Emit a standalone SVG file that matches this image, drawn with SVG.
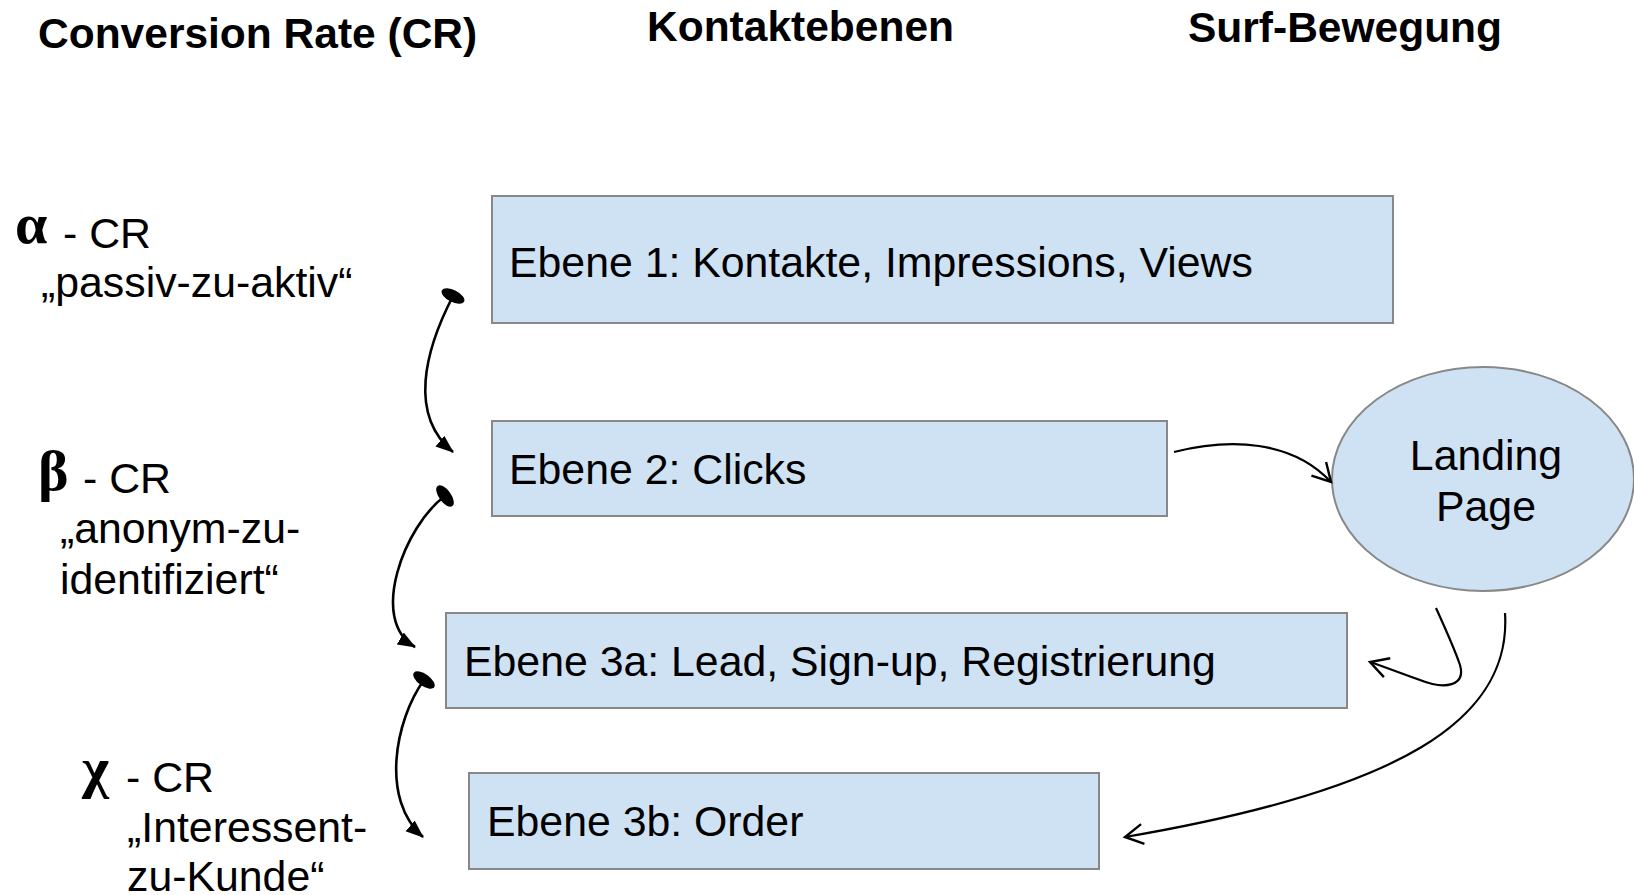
<svg xmlns="http://www.w3.org/2000/svg" width="1634" height="895" viewBox="0 0 1634 895">
<style>
text { font-family: "Liberation Sans", Arial, sans-serif; fill: #000; }
.hdr { font-size: 42.5px; font-weight: bold; }
.lbl { font-size: 42.8px; }
.greek { font-family: "Liberation Serif", "DejaVu Serif", serif; font-size: 58px; font-weight: bold; }
.box { fill: #cfe2f3; stroke: #888888; stroke-width: 2; }
.arc { fill: none; stroke: #000; stroke-width: 2.6; }
.flow { fill: none; stroke: #000; stroke-width: 2.2; }
</style>
<defs>
<marker id="dot" markerUnits="userSpaceOnUse" markerWidth="30" markerHeight="30" refX="15" refY="15" orient="auto" viewBox="0 0 30 30">
<ellipse cx="15" cy="15" rx="6" ry="12.5" fill="#000"/>
</marker>
<marker id="tri" markerUnits="userSpaceOnUse" markerWidth="20" markerHeight="16" refX="17" refY="8" orient="auto" viewBox="0 0 20 16">
<path d="M0,1 L18,8 L0,15 Z" fill="#000"/>
</marker>
<marker id="open" markerUnits="userSpaceOnUse" markerWidth="24" markerHeight="26" refX="21" refY="13" orient="auto" viewBox="0 0 24 26">
<path d="M3,3 L21,13 L3,23" fill="none" stroke="#000" stroke-width="2.4"/>
</marker>
</defs>

<g id="headers">
<text class="hdr" x="38" y="48">Conversion Rate (CR)</text>
<text class="hdr" x="647" y="41">Kontaktebenen</text>
<text class="hdr" x="1188" y="42">Surf-Bewegung</text>
</g>

<g id="cr-alpha">
<text class="greek" x="15" y="243">α</text>
<text class="lbl" x="63" y="248">- CR</text>
<text class="lbl" x="41" y="297">„passiv-zu-aktiv“</text>
</g>
<g id="cr-beta">
<text class="greek" x="38" y="490">β</text>
<text class="lbl" x="83" y="493">- CR</text>
<text class="lbl" x="60" y="543">„anonym-zu-</text>
<text class="lbl" x="60" y="594">identifiziert“</text>
</g>
<g id="cr-chi">
<text class="greek" x="82" y="787">χ</text>
<text class="lbl" x="126" y="792">- CR</text>
<text class="lbl" x="127" y="842">„Interessent-</text>
<text class="lbl" x="127" y="891">zu-Kunde“</text>
</g>

<g id="ebene1">
<rect class="box" x="492" y="196" width="901" height="127"/>
<text class="lbl" x="509" y="277">Ebene 1: Kontakte, Impressions, Views</text>
</g>
<g id="ebene2">
<rect class="box" x="492" y="421" width="675" height="95"/>
<text class="lbl" x="509" y="484">Ebene 2: Clicks</text>
</g>
<g id="ebene3a">
<rect class="box" x="446" y="613" width="901" height="95"/>
<text class="lbl" x="464" y="676">Ebene 3a: Lead, Sign-up, Registrierung</text>
</g>
<g id="ebene3b">
<rect class="box" x="469" y="773" width="630" height="96"/>
<text class="lbl" x="487" y="836">Ebene 3b: Order</text>
</g>
<g id="landing">
<ellipse class="box" cx="1483" cy="479" rx="151" ry="112"/>
<text class="lbl" x="1486" y="470" text-anchor="middle">Landing</text>
<text class="lbl" x="1486" y="521" text-anchor="middle">Page</text>
</g>

<g id="connectors">
<path class="arc" d="M453,296 C425,350 408,415 453,452" marker-start="url(#dot)" marker-end="url(#tri)"/>
<path class="arc" d="M445,496 C405,525 368,620 415,647" marker-start="url(#dot)" marker-end="url(#tri)"/>
<path class="arc" d="M424,680 C395,720 380,800 423,837" marker-start="url(#dot)" marker-end="url(#tri)"/>
<path class="flow" d="M1174,452 C1230,438 1292,440 1331,482" marker-end="url(#open)"/>
<path class="flow" d="M1436,608 C1446,630 1455,650 1460,665 C1466,686 1445,690 1420,680 C1400,673 1385,667 1370,662" marker-end="url(#open)"/>
<path class="flow" d="M1505,613 C1512,720 1400,790 1125,837" marker-end="url(#open)"/>
</g>
</svg>
